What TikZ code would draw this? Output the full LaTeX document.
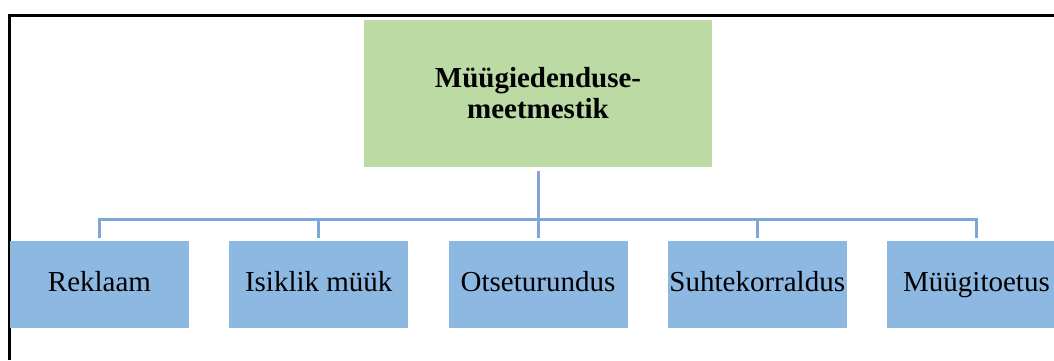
\documentclass[tikz,border=0pt]{standalone}
\usepackage{fontspec}
\setmainfont{Liberation Serif}
\usepackage{tikz}
\usetikzlibrary{calc}

\definecolor{rootgreen}{HTML}{BBDAA4}
\definecolor{leafblue}{HTML}{8DB8E2}
\definecolor{linkblue}{HTML}{7EA7D8}

\begin{document}
\begin{tikzpicture}[
        x=1pt, y=1pt,
        level 1/.style={sibling distance=219.25pt, level distance=191pt},
        every node/.style={rectangle, inner sep=0pt, font=\fontsize{29}{31}\selectfont, align=center},
        rootbox/.style={fill=rootgreen, minimum width=348pt, minimum height=147pt, font=\fontsize{29}{31}\selectfont\bfseries},
        leafbox/.style={fill=leafblue, minimum width=179pt, minimum height=87pt, text height=20pt, text depth=7pt},
        edge from parent/.style={draw=linkblue, line width=3pt},
        edge from parent path={($(\tikzparentnode.south)+(0,-4)$) |- ($(\tikzchildnode.north)+(0,21)$) -- ($(\tikzchildnode.north)+(0,3)$)}
    ]
        \useasboundingbox (0,0) rectangle (1054,360);

        % raam
        \draw[line width=3pt, line join=miter] (9,0) |- (1060,345);

        % puu
        \node [rootbox] at (538,266.5) (root) {Müügiedenduse-\\meetmestik}
            child { node [leafbox] (reklaam) {Reklaam} }
            child { node [leafbox] (isiklik) {Isiklik müük} }
            child { node [leafbox] (otse) {Otseturundus} }
            child { node [leafbox] (suhte) {Suhtekorraldus} }
            child { node [leafbox] (toetus) {Müügitoetus} };
    \end{tikzpicture}
\end{document}
